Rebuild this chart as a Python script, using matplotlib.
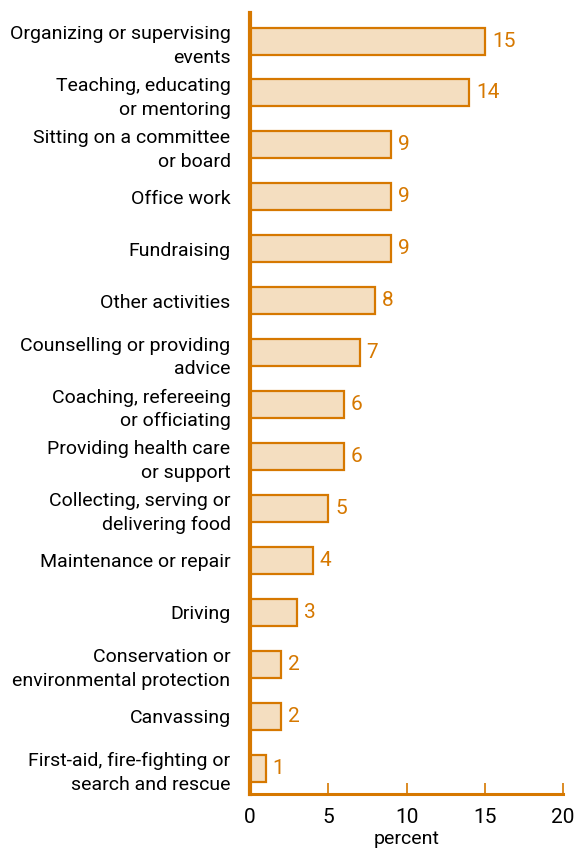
import matplotlib
matplotlib.use('Agg')
from matplotlib import pyplot as plt
from matplotlib import font_manager

activities = [
    'Organizing or supervising\nevents',
    'Teaching, educating\nor mentoring',
    'Sitting on a committee\nor board',
    'Office work',
    'Fundraising',
    'Other activities',
    'Counselling or providing\nadvice',
    'Coaching, refereeing\nor officiating',
    'Providing health care\nor support',
    'Collecting, serving or\ndelivering food',
    'Maintenance or repair',
    'Driving',
    'Conservation or\nenvironmental protection',
    'Canvassing',
    'First-aid, fire-fighting or\nsearch and rescue',
]
percent = [15, 14, 9, 9, 9, 8, 7, 6, 6, 5, 4, 3, 2, 2, 1]
x_ticks = [0, 5, 10, 15, 20]

orange = '#D67800'
fill = '#F4DEC0'

names = [f.name for f in font_manager.fontManager.ttflist]
family = 'Liberation Sans Narrow' if 'Liberation Sans Narrow' in names else 'Roboto'
plt.rcParams['font.family'] = [family, 'DejaVu Sans']

fig = plt.figure(figsize=(5.77, 8.52), dpi=100)
ax = fig.add_axes([0.4333, 0.0681, 0.5425, 0.9166])

pos = list(range(len(activities)))
ax.barh(pos, percent, height=0.52, color=fill, edgecolor=orange, linewidth=1.6)

for y, v in zip(pos, percent):
    ax.text(v + 0.45, y, str(v), color=orange, fontsize=15, va='center', ha='left')

ax.set_ylim(14.5, -0.54)
ax.set_xlim(0, 20)
ax.set_yticks(pos)
ax.set_yticklabels(activities, fontsize=14, linespacing=1.4)
ax.tick_params(axis='y', length=0, pad=14)
ax.set_xticks(x_ticks)
ax.set_xticklabels([str(t) for t in x_ticks], fontsize=15)
ax.tick_params(axis='x', direction='in', length=8, width=1.2, color=orange, pad=10)
ax.set_xlabel('percent', fontsize=14, labelpad=2)

for side in ['top', 'right']:
    ax.spines[side].set_visible(False)
ax.spines['left'].set_color(orange)
ax.spines['left'].set_linewidth(3)
ax.spines['bottom'].set_color(orange)
ax.spines['bottom'].set_linewidth(2.2)

plt.savefig('out.png', dpi=100)
